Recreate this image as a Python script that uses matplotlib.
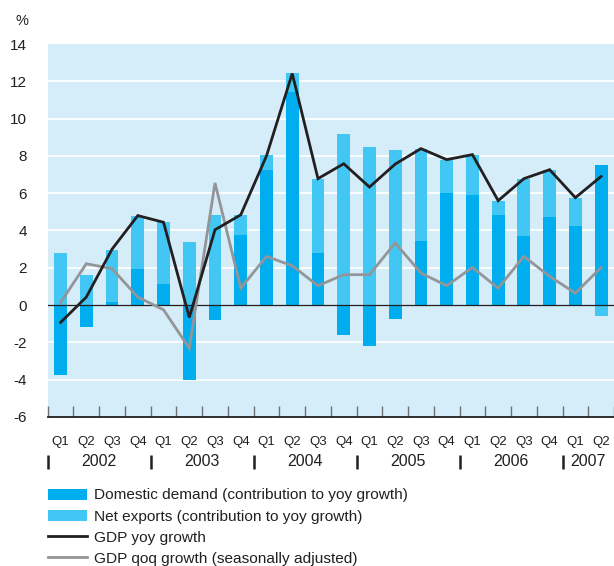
import matplotlib
matplotlib.use("Agg")
import matplotlib.pyplot as plt
import matplotlib.transforms as mtransforms
from matplotlib.patches import Patch
from matplotlib.lines import Line2D
import numpy as np

plt.rcParams['font.family'] = ['Liberation Sans', 'DejaVu Sans']

quarters = ["Q1", "Q2", "Q3", "Q4"] * 5 + ["Q1", "Q2"]
years = ["2002", "2003", "2004", "2005", "2006", "2007"]

domestic = [-3.75, -1.20, 0.14, 1.91, 1.14, -4.01, -0.79, 3.77, 7.26, 11.41, 2.81,
            -1.63, -2.17, -0.77, 3.45, 6.03, 5.92, 4.85, 3.72, 4.74, 4.26, 7.53]
net_exports = [2.80, 1.63, 2.83, 2.88, 3.30, 3.36, 4.84, 1.07, 0.81, 1.01, 3.97,
               9.20, 8.50, 8.34, 4.94, 1.77, 2.15, 0.75, 3.06, 2.52, 1.50, -0.61]
gdp_yoy = [-0.93, 0.43, 3.00, 4.80, 4.44, -0.66, 4.04, 4.84, 8.00, 12.42, 6.78,
           7.58, 6.33, 7.56, 8.39, 7.80, 8.07, 5.60, 6.78, 7.26, 5.76, 6.90]
gdp_qoq = [0.14, 2.22, 1.95, 0.43, -0.25, -2.31, 6.55, 0.91, 2.61, 2.11, 1.04,
           1.63, 1.63, 3.33, 1.72, 1.04, 2.02, 0.91, 2.61, 1.54, 0.64, 2.02]

labels = ["Domestic demand (contribution to yoy growth)",
          "Net exports (contribution to yoy growth)",
          "GDP yoy growth",
          "GDP qoq growth (seasonally adjusted)"]

C_DOM = "#00AEEF"
C_NET = "#42C7F4"
C_BG = "#D5ECF9"
C_TXT = "#231F20"
C_YOY = "#231F20"
C_QOQ = "#939598"

W, H = 614, 566
fig = plt.figure(figsize=(W / 100, H / 100), dpi=100)
ax = fig.add_axes([47.7 / W, 1 - 417 / H, (614 - 47.7) / W, (417 - 44) / H])
ax.set_facecolor(C_BG)

x = np.arange(len(quarters))
dom = np.array(domestic)
net = np.array(net_exports)

pos_base = np.zeros_like(dom)
neg_base = np.zeros_like(dom)
dom_bottom = np.where(dom >= 0, pos_base, neg_base)
pos_base = pos_base + np.where(dom >= 0, dom, 0)
neg_base = neg_base + np.where(dom < 0, dom, 0)
net_bottom = np.where(net >= 0, pos_base, neg_base)

bw = 0.5
ax.bar(x, dom, bottom=dom_bottom, width=bw, color=C_DOM, zorder=3, linewidth=0)
ax.bar(x, net, bottom=net_bottom, width=bw, color=C_NET, zorder=3, linewidth=0)

ax.plot(x, gdp_qoq, color=C_QOQ, lw=2.0, zorder=5, solid_joinstyle='miter')
ax.plot(x, gdp_yoy, color=C_YOY, lw=2.0, zorder=6, solid_joinstyle='miter')

ax.set_xlim(-0.5, len(quarters) - 0.5)
ax.set_ylim(-6, 14)

for v in range(-4, 14, 2):
    if v == 0:
        ax.axhline(0, color=C_TXT, lw=0.9, zorder=4)
    else:
        ax.axhline(v, color="white", lw=1.3, zorder=1)

for s in ["top", "left", "right"]:
    ax.spines[s].set_visible(False)
ax.spines["bottom"].set_color(C_TXT)
ax.spines["bottom"].set_linewidth(1.3)
ax.spines["bottom"].set_zorder(7)

ax.set_yticks(range(-6, 15, 2))
ax.set_yticklabels([str(v) for v in range(-6, 15, 2)], fontsize=11, color=C_TXT)
ax.tick_params(axis="y", length=0, pad=15)

ax.set_xticks(np.arange(-0.5, len(quarters), 1.0))
ax.set_xticklabels([])
ax.tick_params(axis="x", direction="in", length=8, width=1.0, color="#6D6E71")

trans = mtransforms.blended_transform_factory(ax.transData, ax.transAxes)
def ay(py):
    return (417 - py) / (417 - 44)

for i, q in enumerate(quarters):
    ax.text(i, ay(441.5), q, transform=trans, ha="center", va="center",
            fontsize=9.5, color=C_TXT)

year_starts = [0, 4, 8, 12, 16, 20]
year_ends = [4, 8, 12, 16, 20, 22]
for k, (ys, ye) in enumerate(zip(year_starts, year_ends)):
    ax.plot([ys - 0.5, ys - 0.5], [ay(455), ay(469)], transform=trans,
            color=C_TXT, lw=1.8, clip_on=False, solid_capstyle="butt")
    ax.text((ys + ye - 1) / 2, ay(461), years[k], transform=trans,
            ha="center", va="center", fontsize=11.5, color=C_TXT)

fig.text(15 / W, 1 - 21 / H, "%", fontsize=10.5, color=C_TXT, ha="left", va="center")

handles = [Patch(facecolor=C_DOM, edgecolor="none"),
           Patch(facecolor=C_NET, edgecolor="none"),
           Line2D([], [], color=C_YOY, lw=2.0),
           Line2D([], [], color=C_QOQ, lw=2.0)]
leg = fig.legend(handles, labels, loc="upper left",
                 bbox_to_anchor=(48 / W, 1 - 488.5 / H), frameon=False,
                 fontsize=11.1, handlelength=2.5, handletextpad=0.5,
                 labelspacing=0.46, borderaxespad=0, borderpad=0)
for t in leg.get_texts():
    t.set_color(C_TXT)

fig.savefig("out.png", dpi=100)
